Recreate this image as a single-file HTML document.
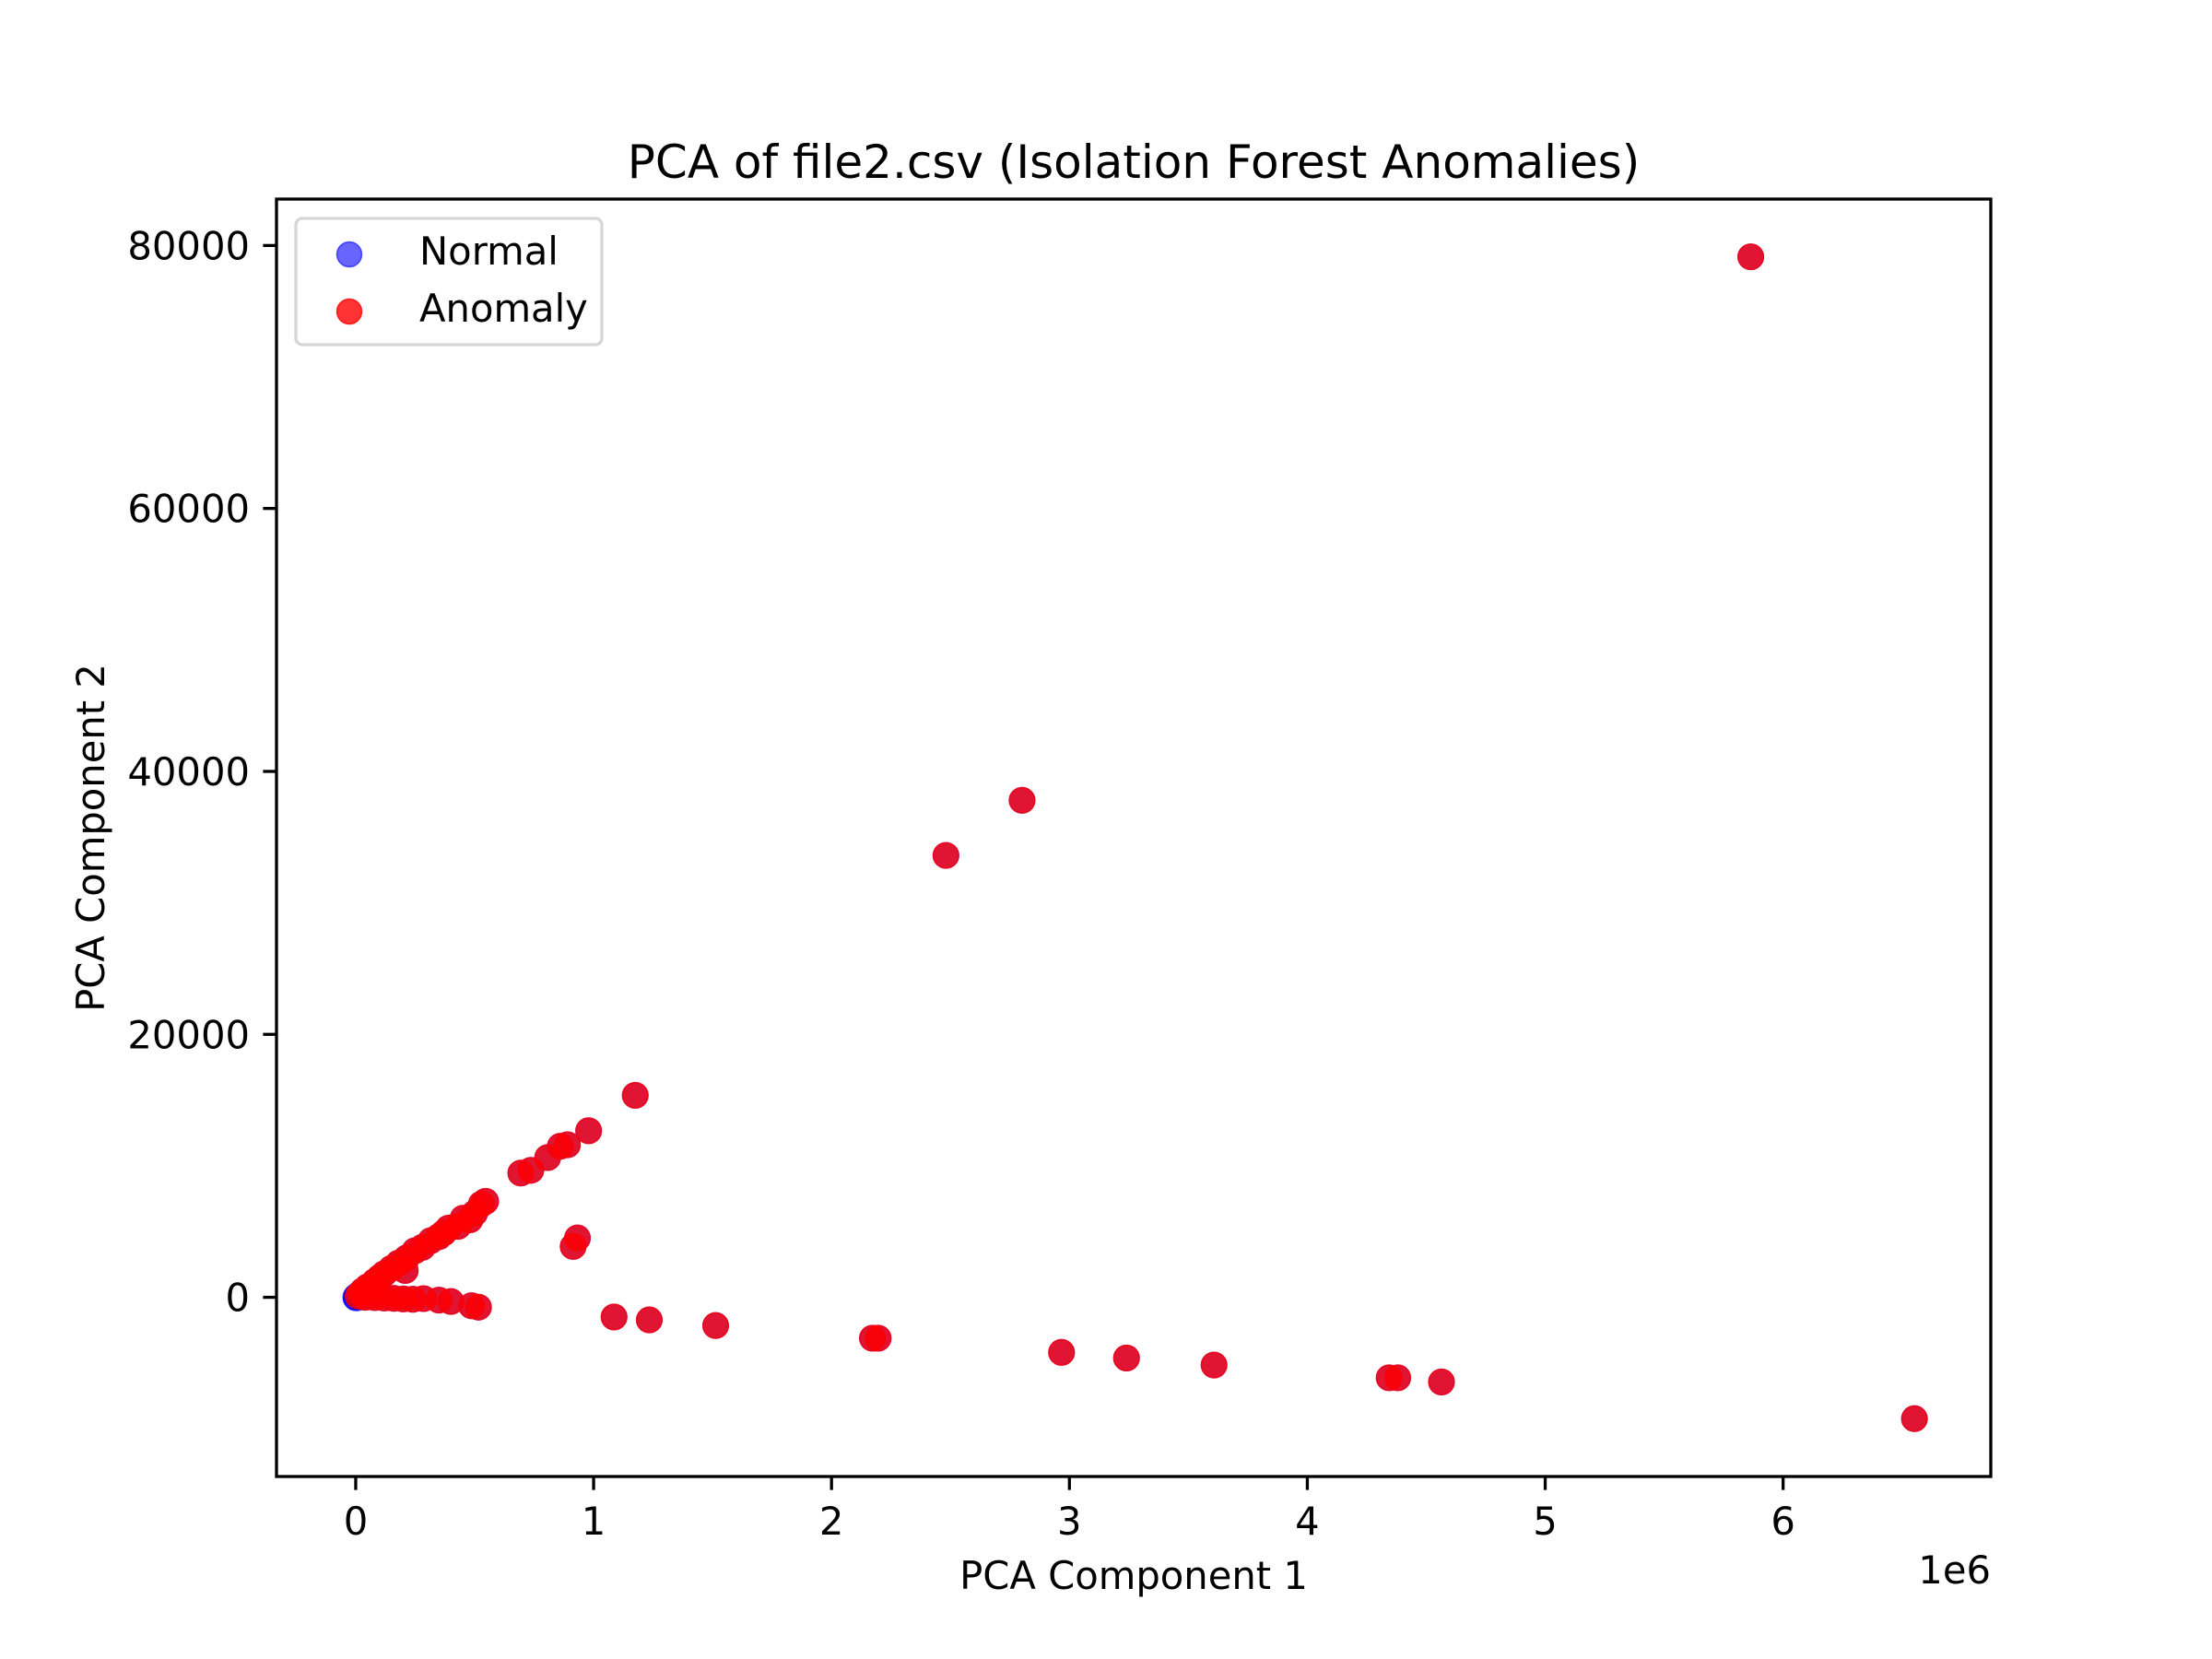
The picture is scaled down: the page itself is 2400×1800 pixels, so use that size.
<!DOCTYPE html>
<html><head><meta charset="utf-8"><style>
html,body{margin:0;padding:0;background:#fff;}
svg{display:block;font-family:"DejaVu Sans","Liberation Sans",sans-serif;}
</style></head><body>
<svg id="chart" width="2400" height="1800" viewBox="0 0 2400 1800" xmlns="http://www.w3.org/2000/svg">
<rect width="2400" height="1800" fill="#fff"/>
<g id="points"></g>
<g id="axes"></g>
</svg>
<script>
// Data (x in units of 1e6)
const normalX = [0.0, 0.005, 0.01, 0.002];
const normalY = [0, 100, 50, -50];
const anomalyX = [5.864, 2.801, 2.481, 1.175, 0.979, 0.89, 0.86, 0.807, 0.736, 0.694, 0.546, 0.528, 0.451, 0.39, 0.35, 0.315, 0.249, 0.214, 0.208,
  0.18, 0.15, 0.12, 0.1, 0.08, 0.05, 0.03, 0.02, 0.01, 0.28, 0.43, 0.48, 0.5, 0.37,
  0.932, 0.914, 1.086, 1.234, 1.513, 2.172, 2.196, 2.967, 3.24, 3.608, 4.344, 4.38, 4.564, 6.552,
  0.516, 0.487, 0.4, 0.35, 0.285, 0.24, 0.2, 0.16, 0.12, 0.08, 0.04];
const anomalyY = [79140, 37800, 33610, 15360, 12670, 11600, 11490, 10630, 9660, 9450, 7300, 7090, 6010, 5260, 4620, 4300, 3540, 3000, 2040,
  2600, 2200, 1800, 1500, 1200, 800, 500, 300, 100, 3800, 5400, 5900, 6400, 4900,
  4510, 3870, -1500, -1720, -2150, -3110, -3110, -4190, -4620, -5150, -6120, -6120, -6440, -9230,
  -750, -640, -320, -215, -100, -150, -120, -80, -50, -20, 0];
const xTicks = [0, 1, 2, 3, 4, 5, 6];
const xTickLabels = ["0", "1", "2", "3", "4", "5", "6"];
const yTicks = [0, 20000, 40000, 60000, 80000];
const yTickLabels = ["0", "20000", "40000", "60000", "80000"];

const L = 300, R = 2160, T = 216, B = 1602;
const xMin = -0.333, xMax = 6.873, yMin = -13630, yMax = 83530;
function sx(v){ return L + (v - xMin) / (xMax - xMin) * (R - L); }
function sy(v){ return B - (v - yMin) / (yMax - yMin) * (B - T); }

const NS = "http://www.w3.org/2000/svg";
const pts = document.getElementById('points');
const axes = document.getElementById('axes');
function mk(tag, attrs, parent){
  const e = document.createElementNS(NS, tag);
  for (const k in attrs) e.setAttribute(k, attrs[k]);
  parent.appendChild(e);
  return e;
}
const allX = normalX.concat(anomalyX), allY = normalY.concat(anomalyY);
for (let i = 0; i < allX.length; i++) {
  const c = mk('circle', {cx: sx(allX[i]), cy: sy(allY[i]), r: 13.8, fill: 'rgba(0,0,255,0.6)', stroke: 'rgba(0,0,255,0.6)', 'stroke-width': 1.5}, pts);
  
  
}
for (let i = 0; i < anomalyX.length; i++) {
  const c = mk('circle', {cx: sx(anomalyX[i]), cy: sy(anomalyY[i]), r: 13.8, fill: 'rgba(255,0,0,0.8)', stroke: 'rgba(255,0,0,0.8)', 'stroke-width': 1.5}, pts);
  
  
}
const frame = mk('rect', {x: L, y: T, width: R - L, height: B - T, fill: 'none', stroke: '#000', 'stroke-width': 3.3}, axes);


for (let i = 0; i < xTicks.length; i++) {
  const x = sx(xTicks[i]);
  const t = mk('line', {x1: x, x2: x, y1: B, y2: B + 14.6, stroke: '#000', 'stroke-width': 3.3}, axes);
  
  
  const tx = mk('text', {x: x, y: B + 63, 'font-size': 41.7, 'text-anchor': 'middle'}, axes);
  tx.textContent = xTickLabels[i];
  
  
}
for (let i = 0; i < yTicks.length; i++) {
  const y = sy(yTicks[i]);
  const t = mk('line', {x1: L - 14.6, x2: L, y1: y, y2: y, stroke: '#000', 'stroke-width': 3.3}, axes);
  
  
  const tx = mk('text', {x: L - 29, y: y + 15, 'font-size': 41.7, 'text-anchor': 'end'}, axes);
  tx.textContent = yTickLabels[i];
  
  
}
</script>
<svg style="position:absolute;left:0;top:0" width="2400" height="1800" xmlns="http://www.w3.org/2000/svg">
<text x="1230" y="193" font-size="50" text-anchor="middle" font-family="DejaVu Sans, Liberation Sans, sans-serif">PCA of file2.csv (Isolation Forest Anomalies)</text>
<text x="1230" y="1724" font-size="41.7" text-anchor="middle" font-family="DejaVu Sans, Liberation Sans, sans-serif">PCA Component 1</text>
<text x="2160" y="1718" font-size="41.7" text-anchor="end" font-family="DejaVu Sans, Liberation Sans, sans-serif">1e6</text>
<text transform="translate(113,909) rotate(-90)" font-size="41.7" text-anchor="middle" font-family="DejaVu Sans, Liberation Sans, sans-serif">PCA Component 2</text>
<g>
<rect x="321" y="237" width="332" height="137" rx="7" fill="rgba(255,255,255,0.8)" stroke="#d6d6d6" stroke-width="3.3"/>
<circle cx="379" cy="276" r="13.5" fill="rgba(0,0,255,0.6)" stroke="rgba(0,0,255,0.6)" stroke-width="1.5"/>
<text x="455" y="287" font-size="41.7" font-family="DejaVu Sans, Liberation Sans, sans-serif">Normal</text>
<circle cx="379" cy="338" r="13.5" fill="rgba(255,0,0,0.8)" stroke="rgba(255,0,0,0.8)" stroke-width="1.5"/>
<text x="455" y="349" font-size="41.7" font-family="DejaVu Sans, Liberation Sans, sans-serif">Anomaly</text>
</g>
</svg>
</body></html>
